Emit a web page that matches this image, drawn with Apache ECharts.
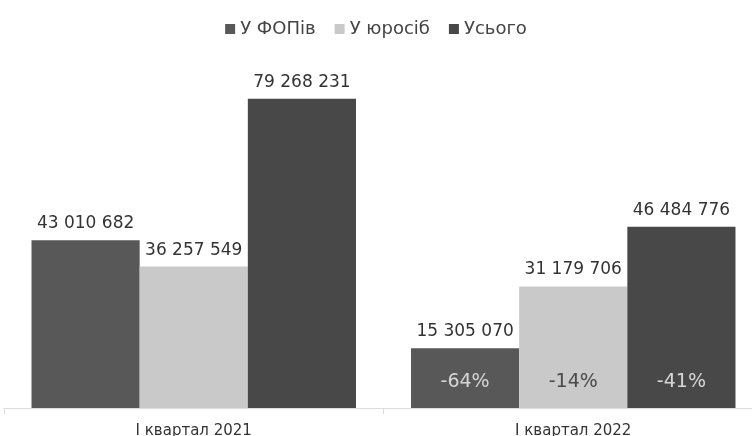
<!DOCTYPE html>
<html>
<head>
<meta charset="utf-8">
<script src="https://cdn.jsdelivr.net/npm/echarts@6/dist/echarts.min.js"></script>
<style>
  html, body { margin: 0; padding: 0; background: #fff; }
  #chart { width: 752px; height: 436px; }
</style>
</head>
<body>
<div id="chart"></div>
<script>
// дані
var categories = ["I квартал 2021", "I квартал 2022"];
var seriesNames = ["У ФОПів", "У юросіб", "Усього"];
var fop = [43010682, 15305070];
var legal = [36257549, 31179706];
var total = [79268231, 46484776];
var changes = [
  [null, "-64%"],
  [null, "-14%"],
  [null, "-41%"]
];

var colors = ["#585858", "#c9c9c9", "#484848"];
var pctColors = ["#d6d6d6", "#4a4a4a", "#d6d6d6"];
var font = "DejaVu Sans";

function fmt(v) {
  return String(v).replace(/\B(?=(\d{3})+(?!\d))/g, " ");
}

var values = [fop, legal, total];

var series = [];
values.forEach(function (vals, i) {
  series.push({
    name: seriesNames[i],
    type: "bar",
    xAxisIndex: 0,
    data: vals,
    itemStyle: { color: colors[i] },
    barGap: "0%",
    barCategoryGap: "14.5%",
    label: {
      show: true,
      position: "top",
      distance: 8,
      color: "#333",
      fontSize: 17,
      fontFamily: font,
      formatter: function (p) { return fmt(p.value); }
    }
  });
});
// прозорі накладені стовпці для відсотків
values.forEach(function (vals, i) {
  series.push({
    name: seriesNames[i] + "_pct",
    type: "bar",
    xAxisIndex: 1,
    data: vals,
    itemStyle: { color: "rgba(0,0,0,0)" },
    barGap: "0%",
    barCategoryGap: "14.5%",
    silent: true,
    label: {
      show: true,
      position: "insideBottom",
      distance: 16,
      color: pctColors[i],
      fontSize: 19,
      fontFamily: font,
      formatter: function (p) { return changes[i][p.dataIndex] || ""; }
    }
  });
});

var myChart = echarts.init(document.getElementById("chart"));
var option = {
  animation: false,
  color: colors,
  legend: {
    data: seriesNames,
    top: 15,
    left: "center",
    icon: "rect",
    itemWidth: 10,
    itemHeight: 10,
    itemGap: 19,
    textStyle: { color: "#444", fontSize: 18, fontFamily: font }
  },
  grid: {
    left: 4,
    right: -11,
    top: 18,
    bottom: 28,
    outerBoundsMode: "none",
    containLabel: false
  },
  xAxis: [
    {
      type: "category",
      data: categories,
      axisLine: { lineStyle: { color: "#dcdcdc" } },
      axisTick: { show: true, length: 6, lineStyle: { color: "#dcdcdc" } },
      axisLabel: { color: "#333", fontSize: 15, fontFamily: font, margin: 16 }
    },
    {
      type: "category",
      data: categories,
      show: false
    }
  ],
  yAxis: {
    type: "value",
    min: 0,
    max: 100000000,
    show: false,
    splitLine: { show: false }
  },
  series: series
};
myChart.setOption(option);
</script>
</body>
</html>
